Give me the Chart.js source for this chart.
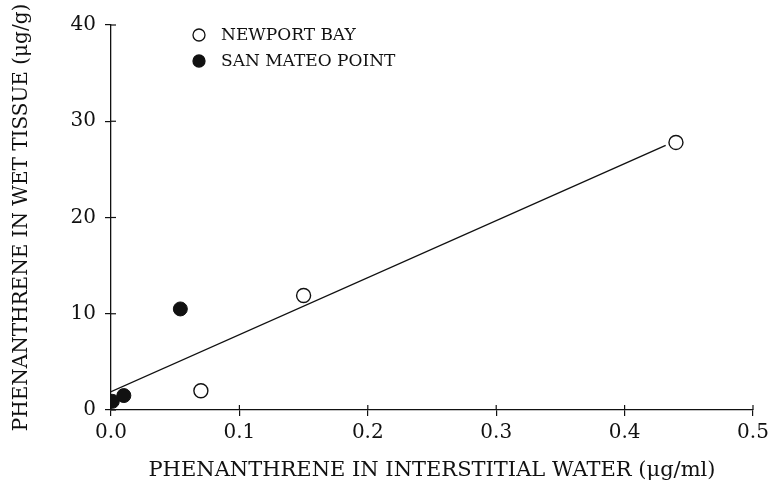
<!DOCTYPE html>
<html>
<head>
<meta charset="utf-8">
<script src="https://cdn.jsdelivr.net/npm/chart.js@4.4.1/dist/chart.umd.min.js"></script>
<style>
  html,body{margin:0;padding:0;background:#fff;}
  #wrap{width:771px;height:499px;position:relative;}
</style>
</head>
<body>
<div id="wrap"><canvas id="c"></canvas></div>
<script>
// ── data ──
const NEWPORT_X = [0.07, 0.15, 0.44];
const NEWPORT_Y = [2.0, 11.9, 27.8];
const SANMATEO_X = [0.001, 0.01, 0.054];
const SANMATEO_Y = [0.9, 1.5, 10.5];
const FIT_X = [0.0, 0.432];
const FIT_Y = [1.9, 27.5];
const X_TICKS = [0, 0.1, 0.2, 0.3, 0.4, 0.5];
const Y_TICKS = [0, 10, 20, 30, 40];

const SERIF = '"DejaVu Serif", "Liberation Serif", serif';
const pts = (xs, ys) => xs.map((x, i) => ({x, y: ys[i]}));

// tick marks that cross the axis line, like the plotted original
const crossTicks = {
  id: 'crossTicks',
  afterDraw(chart){
    const {ctx, chartArea:a, scales:{x, y}} = chart;
    ctx.save();
    ctx.strokeStyle = '#111';
    ctx.lineWidth = 1.2;
    X_TICKS.forEach(v => {
      const px = x.getPixelForValue(v);
      ctx.beginPath(); ctx.moveTo(px, a.bottom - 5); ctx.lineTo(px, a.bottom); ctx.stroke();
    });
    Y_TICKS.forEach(v => {
      const py = y.getPixelForValue(v);
      ctx.beginPath(); ctx.moveTo(a.left, py); ctx.lineTo(a.left + 5, py); ctx.stroke();
    });
    ctx.restore();
  }
};

// legend box in the upper left of the plot
const innerLegend = {
  id: 'innerLegend',
  afterDraw(chart){
    const {ctx, chartArea:a} = chart;
    const sets = chart.data.datasets.filter(d => d.legend);
    ctx.save();
    ctx.font = '17px ' + SERIF;
    ctx.textBaseline = 'middle';
    sets.forEach((d, i) => {
      const cx = a.left + 88, cy = a.top + 10 + i * 26;
      ctx.beginPath();
      ctx.arc(cx, cy, 6, 0, Math.PI * 2);
      ctx.fillStyle = d.pointBackgroundColor;
      ctx.fill();
      ctx.lineWidth = 1.3;
      ctx.strokeStyle = '#111';
      ctx.stroke();
      ctx.fillStyle = '#111';
      ctx.fillText(d.label, cx + 22, cy + 1);
    });
    ctx.restore();
  }
};

new Chart(document.getElementById('c'), {
  type: 'scatter',
  data: {
    datasets: [
      { label: 'NEWPORT BAY', legend: true, data: pts(NEWPORT_X, NEWPORT_Y),
        pointRadius: 7, pointBackgroundColor: '#fff', pointBorderColor: '#111', pointBorderWidth: 1.4 },
      { label: 'SAN MATEO POINT', legend: true, data: pts(SANMATEO_X, SANMATEO_Y),
        pointRadius: 7, pointBackgroundColor: '#111', pointBorderColor: '#111', pointBorderWidth: 1 },
      { label: 'fit', type: 'line', data: pts(FIT_X, FIT_Y), showLine: true,
        borderColor: '#111', borderWidth: 1.4, pointRadius: 0, fill: false, order: 5 }
    ]
  },
  options: {
    responsive: true, maintainAspectRatio: false, animation: false,
    layout: { padding: { top: 25, right: 18, left: 0, bottom: 0 } },
    plugins: { legend: { display: false }, tooltip: { enabled: false } },
    scales: {
      x: {
        type: 'linear', min: 0, max: 0.5,
        afterBuildTicks: s => { s.ticks = X_TICKS.map(v => ({value: v})); },
        afterFit: s => { s.height = 89; s.paddingRight = 0; },
        border: { display: true, color: '#111', width: 1.3 },
        grid: { display: true, drawOnChartArea: false, drawTicks: true, tickLength: 6, color: '#111', lineWidth: 1.2 },
        ticks: { color: '#111', font: { family: SERIF, size: 20 }, padding: 5, maxRotation: 0,
                 callback: v => Number(v).toFixed(1) },
        title: { display: true, text: 'PHENANTHRENE IN INTERSTITIAL WATER (\u03bcg/ml)',
                 color: '#111', font: { family: SERIF, size: 21 }, padding: { top: 0, bottom: 16 } }
      },
      y: {
        type: 'linear', min: 0, max: 40,
        afterBuildTicks: s => { s.ticks = Y_TICKS.map(v => ({value: v})); },
        afterFit: s => { s.width = 111; },
        border: { display: true, color: '#111', width: 1.3 },
        grid: { display: true, drawOnChartArea: false, drawTicks: true, tickLength: 6, color: '#111', lineWidth: 1.2 },
        ticks: { color: '#111', font: { family: SERIF, size: 20 }, padding: 9 },
        title: { display: true, text: 'PHENANTHRENE IN WET TISSUE (\u03bcg/g)',
                 color: '#111', font: { family: SERIF, size: 20 }, padding: { top: 10, bottom: 0 } }
      }
    }
  },
  plugins: [crossTicks, innerLegend]
});
</script>
</body>
</html>
